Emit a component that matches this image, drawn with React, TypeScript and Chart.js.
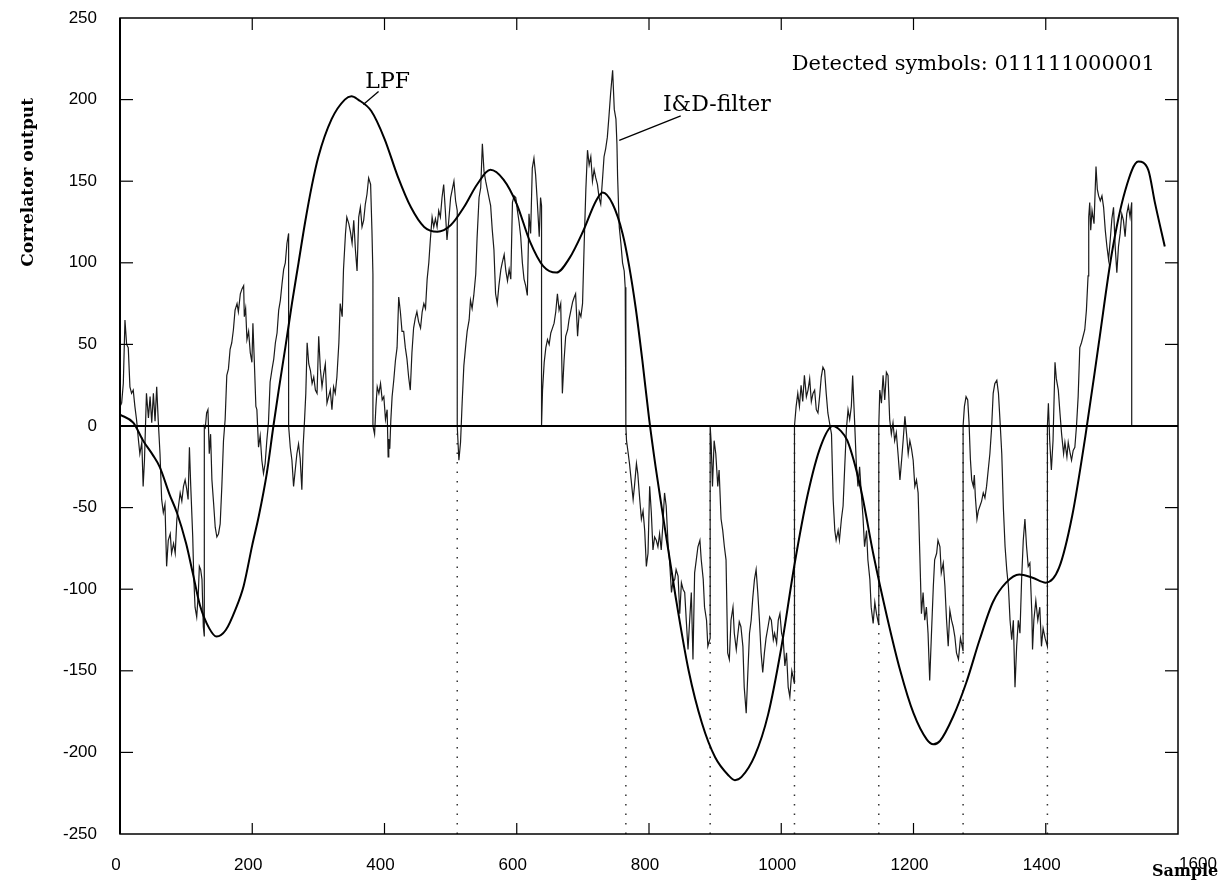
import React, { useEffect, useRef } from 'react';
import { Chart, registerables } from 'chart.js';

Chart.register(...registerables);

// ---- I&D-filter output, one array per symbol interval: [sample, value] ----
const idfSymbol1: number[][] = [[0,12],[2.5,14],[5,26],[7.5,65],[10,50],[12.5,48],[15,24],[17.5,20],[20,22],[22.5,12],[25,4],[28,-9],[30,-17],[33,-10],[35,-37],[37,-21],[40,20],[43,5],[45.5,18],[48,2],[50.5,20],[53,3],[55.5,24],[58,2],[60.5,-17],[63,-45],[65.5,-53],[68,-48],[70.5,-86],[73,-70],[76,-66],[78,-78],[81,-72],[83.5,-78],[86,-57],[88.5,-49],[91,-41],[93.5,-46],[96,-37],[98.5,-33],[101,-39],[103,-45],[105,-13],[107,-37],[110,-68],[111.5,-92],[113.5,-111],[116,-117],[118.5,-102],[120,-86],[122,-88],[124,-94],[126,-123],[127.5,-129],[127.5,0]];
const idfSymbol2: number[][] = [[129,-1],[131,8],[133,10],[135,-17],[137,-5],[139,-33],[141.5,-47],[144,-62],[146.5,-68],[149,-66],[151.5,-60],[154,-37],[156.5,-9],[159,4],[161.5,31],[164,35],[166.5,47],[169,51],[171.5,59],[174,71],[177,75],[179,70],[182,81],[184.5,84],[187,86],[188,67],[190,72],[192,53],[194.5,58],[197,45],[199.5,39],[201,63],[203,41],[205.5,12],[207,10],[209.5,-13],[212,-6],[214.5,-21],[217,-29],[219.5,-23],[222,-9],[224.5,2],[227,27],[230,35],[232.5,41],[235,51],[237.5,57],[240,71],[242.5,77],[245,87],[247.5,96],[250,100],[252.5,112],[255,118],[255,0]];
const idfSymbol3: number[][] = [[257.5,-13],[260,-21],[262.5,-37],[265,-27],[267.5,-17],[270,-11],[272.5,-20],[275,-39],[277,-12],[279,3],[281,20],[283,51],[285.5,38],[288,34],[290.5,26],[293,30],[295.5,22],[298,20],[300.5,55],[303,35],[305.5,24],[308,32],[310.5,38],[313,14],[315.5,18],[318,22],[320.5,10],[323,24],[325.5,20],[328,30],[331,51],[333,75],[336,67],[338,96],[341,118],[343,128],[346,124],[348.5,119],[351,112],[353.5,126],[356,108],[358.5,95],[361,128],[363.5,134],[366,122],[368.5,126],[371,136],[373.5,142],[376,152],[379,148],[381,120],[382.5,93],[382.5,0]];
const idfSymbol4: number[][] = [[385,-5],[387,12],[389,24],[391.5,20],[394,26],[396.5,16],[399,18],[401.5,4],[404,10],[405.5,-19],[406.5,-8],[408,-14],[409.5,3],[411.5,18],[414,28],[416.5,40],[419,48],[421.5,79],[424,70],[426.5,58],[429,58],[431.5,48],[434,41],[436.5,30],[439,22],[441.5,45],[444,60],[446.5,66],[449,70],[451.5,64],[454.5,60],[457,70],[459.5,75],[462,72],[464.5,90],[467,100],[469.5,115],[472,128],[474.5,122],[477,127],[479.5,122],[482,132],[484.5,128],[487,140],[489.5,148],[492,132],[494.5,114],[497,125],[500,140],[502.5,145],[505,150],[507.5,138],[510,132],[510,0]];
const idfSymbol5: number[][] = [[512.5,-21],[515,-10],[517.5,15],[520,37],[523,50],[525,58],[528,65],[530,77],[532.5,72],[535,80],[538,93],[540,115],[543,140],[545.5,146],[548,173],[550.5,156],[553,150],[555.5,145],[558,140],[560.5,135],[563,120],[565.5,108],[568,81],[570.5,75],[573,86],[576,96],[578,100],[581,105],[583.5,95],[586,89],[588.5,96],[591,90],[593.5,137],[596,141],[598.5,140],[601,132],[603.5,125],[606,116],[608.5,100],[611,90],[613.5,86],[616,80],[618.5,130],[621,118],[623.5,158],[626,164],[628.5,154],[631,138],[634,116],[636,140],[637.5,135],[637.5,0]];
const idfSymbol6: number[][] = [[639,22],[641.5,39],[644,48],[646.5,53],[649,50],[651.5,57],[654,60],[656.5,63],[659,70],[661.5,81],[664,71],[666.5,75],[669,20],[671.5,40],[674,55],[677,59],[679,65],[682,71],[684.5,76],[687,79],[689,81],[692,55],[694.5,70],[697,67],[699.5,75],[702,112],[704.5,145],[707,169],[709.5,160],[712,165],[714.5,150],[717,157],[719.5,152],[722,148],[724.5,140],[727,136],[730,153],[732,165],[734.5,170],[737,177],[739.5,190],[742,204],[745,218],[747.5,194],[750,188],[751.5,173],[752.5,153],[755,122],[757.5,112],[760,100],[762.5,95],[764,85],[765,0]];
const idfSymbol7: number[][] = [[766,-9],[768,-15],[770.5,-23],[773,-33],[776,-45],[778,-37],[781,-23],[783,-29],[786,-45],[788.5,-57],[791,-52],[793.5,-64],[796,-86],[798.5,-78],[801,-37],[803.5,-53],[806,-76],[808.5,-68],[811,-70],[813.5,-74],[816,-66],[818.5,-76],[821,-60],[823.5,-41],[826,-49],[829,-74],[831,-82],[834,-102],[836,-96],[839,-94],[841,-88],[844,-92],[846.5,-115],[849,-96],[851.5,-100],[854,-102],[856.5,-120],[859,-137],[861.5,-119],[864,-102],[866.5,-143],[869,-90],[871.5,-82],[874,-74],[877,-70],[879,-82],[882,-94],[884,-111],[887,-119],[889,-135],[892.5,-130],[892.5,0]];
const idfSymbol8: number[][] = [[894,-10],[896,-37],[898.5,-9],[901,-17],[904,-37],[906,-27],[909,-57],[911.5,-64],[914,-74],[916.5,-82],[919,-139],[921.5,-143],[924,-119],[927,-111],[929,-127],[932,-137],[934,-129],[936.5,-120],[939,-123],[942,-135],[944,-160],[947,-176],[949.5,-151],[952,-127],[954.5,-119],[957,-105],[959.5,-94],[962,-88],[964.5,-102],[967,-119],[969.5,-139],[972,-151],[974.5,-139],[977,-130],[980,-123],[982.5,-117],[985,-119],[988,-131],[990,-127],[993,-133],[995.5,-119],[998,-115],[1000.5,-127],[1003,-131],[1005.5,-147],[1008,-139],[1010.5,-160],[1013,-166],[1016,-150],[1020,-158],[1020,0]];
const idfSymbol9: number[][] = [[1022.5,12],[1025,20],[1027.5,12],[1030,25],[1032.5,15],[1035,31],[1038,18],[1040.5,22],[1043,29],[1045.5,15],[1048,20],[1050.5,22],[1053,10],[1055.5,8],[1058,18],[1060.5,30],[1063,36],[1065.5,34],[1068,20],[1070.5,8],[1073,2],[1076,-5],[1078.5,-45],[1081,-64],[1083,-70],[1086,-64],[1088,-70],[1091,-57],[1093.5,-49],[1096,-25],[1098.5,-2],[1101,10],[1103.5,4],[1106,12],[1108,31],[1111,2],[1113.5,-23],[1116,-37],[1118.5,-25],[1121,-41],[1123.5,-55],[1126,-74],[1129,-64],[1131,-82],[1134,-94],[1136,-111],[1139,-121],[1141.5,-108],[1144,-115],[1147.5,-122],[1147.5,0]];
const idfSymbol10: number[][] = [[1149,22],[1151.5,14],[1154,31],[1156.5,16],[1159,33],[1161.5,31],[1164,4],[1166.5,-5],[1169,2],[1171.5,-9],[1174,-4],[1177,-19],[1179.5,-33],[1182,-21],[1184.5,-8],[1187,6],[1189.5,-5],[1192,-17],[1194.5,-9],[1197,-14],[1199.5,-21],[1202,-37],[1204.5,-33],[1207,-41],[1209.5,-78],[1212,-115],[1214.5,-102],[1217,-119],[1219.5,-111],[1222,-127],[1224.5,-156],[1227,-129],[1230,-98],[1232,-82],[1235,-78],[1237,-70],[1240,-74],[1242,-90],[1245,-84],[1247.5,-98],[1250,-119],[1252.5,-135],[1255,-113],[1257.5,-119],[1260,-123],[1262.5,-129],[1265,-139],[1268,-143],[1271,-130],[1275,-138],[1275,0]];
const idfSymbol11: number[][] = [[1277,12],[1279.5,18],[1282,16],[1284,2],[1286,-20],[1288,-33],[1290.5,-37],[1292,-30],[1293.5,-43],[1296,-57],[1298,-52],[1300.5,-49],[1303,-46],[1305.5,-41],[1308,-44],[1310.5,-37],[1313,-27],[1315.5,-17],[1318,-2],[1320.5,20],[1323,26],[1326,28],[1328.5,20],[1331,2],[1333.5,-17],[1336,-51],[1338.5,-74],[1341,-88],[1343.5,-98],[1346,-119],[1348.5,-131],[1351,-119],[1353.5,-160],[1356,-135],[1358.5,-119],[1361,-127],[1363.5,-94],[1366,-70],[1368.5,-57],[1371,-74],[1373.5,-86],[1376,-84],[1379,-115],[1380,-137],[1382,-119],[1385,-107],[1388,-119],[1391,-111],[1393.5,-135],[1396,-124],[1399,-130],[1402.5,-135],[1402.5,0]];
const idfSymbol12: number[][] = [[1404,14],[1406,-9],[1408.5,-27],[1411,-9],[1414,39],[1416,29],[1419,22],[1421.5,8],[1424,-5],[1427,-17],[1429,-10],[1432,-19],[1434,-10],[1437,-17],[1439,-21],[1441.5,-15],[1444,-13],[1446.5,0],[1449,18],[1451.5,48],[1454,51],[1456.5,55],[1459,59],[1461.5,71],[1464,92],[1465,128],[1466.5,137],[1468,120],[1470,132],[1473,124],[1476,159],[1478,145],[1480,141],[1482.5,138],[1485,141],[1487.5,134],[1490,120],[1492.5,110],[1495,102],[1497.5,114],[1500,127],[1502.5,134],[1505,110],[1507.5,94],[1510,110],[1512.5,118],[1515,130],[1517.5,126],[1520,116],[1522.5,130],[1525,135],[1527.5,128],[1530,137],[1530,0]];

// ---- LPF output ----
const lpfSamples = [0,20,35,50,60,75,86,100,110,121,135,146,160,175,187,200,210,222,232,240,250,260,270,280,290,300,320,340,350,360,380,400,420,440,460,480,500,520,540,560,580,600,620,640,660,680,700,720,730,745,760,770,780,790,800,810,820,840,860,880,900,920,930,940,960,980,1000,1020,1040,1060,1078,1090,1100,1120,1140,1160,1180,1200,1220,1230,1240,1260,1280,1300,1320,1340,1360,1380,1400,1420,1440,1460,1480,1500,1520,1540,1555,1565,1580];
const lpfValues = [7,2,-9,-18,-25,-42,-53,-72,-90,-110,-124,-129,-125,-112,-98,-73,-55,-29,0,22,48,75,100,125,147,165,188,200,202,200,193,176,153,134,122,119,123,134,148,157,151,136,113,98,94,103,119,138,143,136,118,98,72,40,5,-25,-52,-104,-150,-182,-203,-214,-217,-215,-202,-177,-136,-85,-42,-12,0,-3,-9,-38,-80,-117,-150,-176,-192,-195,-193,-178,-157,-131,-108,-96,-91,-93,-96,-87,-55,-6,50,106,144,162,157,137,110];

// ---- symbol boundaries marked with dotted verticals ----
const symbolMarks = [510, 765, 892.5, 1020, 1147.5, 1275, 1402.5];

// ---- ticks and text ----
const xTickValues = [0, 200, 400, 600, 800, 1000, 1200, 1400, 1600];
const yTickValues = [-250, -200, -150, -100, -50, 0, 50, 100, 150, 200, 250];
const xTitle = 'Sample';
const yTitle = 'Correlator output';
const detectedText = 'Detected symbols: 011111000001';
const lpfLabel = 'LPF';
const idfLabel = 'I&D-filter';

const SERIF = '"DejaVu Serif", "Liberation Serif", serif';
const SANS = '"Liberation Sans", Arial, sans-serif';

const decorPlugin = {
  id: 'decor',
  afterDraw(chart: any) {
    const { ctx, chartArea: a } = chart;
    const xs = chart.scales.x;
    const ys = chart.scales.y;
    const line = (x1: number, y1: number, x2: number, y2: number) => {
      ctx.beginPath();
      ctx.moveTo(x1, y1);
      ctx.lineTo(x2, y2);
      ctx.stroke();
    };
    ctx.save();
    ctx.strokeStyle = '#000';
    ctx.lineWidth = 1.5;
    ctx.strokeRect(a.left, a.top, a.right - a.left, a.bottom - a.top);
    ctx.lineWidth = 2;
    line(a.left, a.top, a.left, a.bottom);
    // inward tick marks
    ctx.lineWidth = 1.2;
    xTickValues.slice(1, -1).forEach((v) => {
      const p = xs.getPixelForValue(v);
      line(p, a.bottom, p, a.bottom - 11);
      line(p, a.top, p, a.top + 12);
    });
    yTickValues.slice(1, -1).forEach((v) => {
      const p = ys.getPixelForValue(v);
      line(a.left, p, a.left + 13, p);
      line(a.right, p, a.right - 13, p);
    });

    ctx.fillStyle = '#000';
    // last x tick label, set to the right of the frame
    ctx.font = '17px ' + SANS;
    ctx.textAlign = 'center';
    ctx.textBaseline = 'alphabetic';
    ctx.fillText(String(xTickValues[xTickValues.length - 1]), a.right + 20, a.bottom + 35);

    // axis titles
    ctx.font = 'bold 16px ' + SERIF;
    ctx.textAlign = 'left';
    ctx.fillText(xTitle, a.right - 26, a.bottom + 42);

    ctx.save();
    ctx.font = 'bold 17px ' + SERIF;
    ctx.translate(33, a.top + 80);
    ctx.rotate(-Math.PI / 2);
    ctx.textAlign = 'right';
    ctx.fillText(yTitle, 0, 0);
    ctx.restore();

    // annotations
    ctx.font = '21px ' + SERIF;
    ctx.textAlign = 'right';
    ctx.fillText(detectedText, xs.getPixelForValue(1565), ys.getPixelForValue(218));
    ctx.font = '22px ' + SERIF;
    ctx.textAlign = 'left';
    ctx.fillText(lpfLabel, xs.getPixelForValue(371), ys.getPixelForValue(207));
    ctx.fillText(idfLabel, xs.getPixelForValue(821), ys.getPixelForValue(193));

    ctx.lineWidth = 1.3;
    line(xs.getPixelForValue(391), ys.getPixelForValue(205), xs.getPixelForValue(368), ys.getPixelForValue(197));
    line(xs.getPixelForValue(848), ys.getPixelForValue(190), xs.getPixelForValue(755), ys.getPixelForValue(175));
    ctx.restore();
  },
};

export default function App() {
  const ref = useRef<HTMLCanvasElement | null>(null);

  useEffect(() => {
    const canvas = ref.current;
    if (!canvas) return;
    const idfData = [
      idfSymbol1, idfSymbol2, idfSymbol3, idfSymbol4, idfSymbol5, idfSymbol6,
      idfSymbol7, idfSymbol8, idfSymbol9, idfSymbol10, idfSymbol11, idfSymbol12,
    ].flat().map(([x, y]) => ({ x, y }));
    const lpfData = lpfSamples.map((x, i) => ({ x, y: lpfValues[i] }));
    const markData: any[] = [];
    symbolMarks.forEach((s) => {
      markData.push({ x: s, y: -250 }, { x: s, y: 0 }, { x: s, y: null });
    });

    const chart = new Chart(canvas, {
      type: 'line',
      data: {
        datasets: [
          { label: 'LPF', data: lpfData, borderColor: '#000', borderWidth: 2, pointRadius: 0, cubicInterpolationMode: 'monotone', fill: false } as any,
          { label: 'zero', data: [{ x: 0, y: 0 }, { x: 1600, y: 0 }], borderColor: '#000', borderWidth: 2, pointRadius: 0, fill: false },
          { label: 'I&D-filter', data: idfData, borderColor: '#1a1a1a', borderWidth: 1.2, pointRadius: 0, tension: 0, fill: false },
          { label: 'marks', data: markData, borderColor: '#333', borderWidth: 1.5, borderDash: [1.5, 8], pointRadius: 0, spanGaps: false, fill: false },
        ],
      },
      options: {
        responsive: false,
        animation: false,
        events: [],
        plugins: { legend: { display: false }, tooltip: { enabled: false } },
        layout: { padding: { top: 18, right: 42, left: 0, bottom: 0 } },
        scales: {
          x: {
            type: 'linear',
            min: 0,
            max: 1600,
            afterFit: (s: any) => { s.height = 56; s.paddingLeft = 0; s.paddingRight = 0; },
            grid: { display: false, drawTicks: false },
            border: { display: false },
            ticks: {
              stepSize: 200,
              padding: 21,
              labelOffset: -4,
              maxRotation: 0,
              autoSkip: false,
              color: '#000',
              font: { family: SANS, size: 17 },
              callback: (v: any) => (v === 1600 ? '' : String(v)),
            },
          },
          y: {
            type: 'linear',
            min: -250,
            max: 250,
            afterFit: (s: any) => { s.width = 120; s.paddingTop = 0; s.paddingBottom = 0; },
            grid: { display: false, drawTicks: false },
            border: { display: false },
            ticks: {
              stepSize: 50,
              padding: 23,
              color: '#000',
              font: { family: SANS, size: 17 },
            },
          },
        },
      },
      plugins: [decorPlugin],
    });
    return () => chart.destroy();
  }, []);

  return (
    <div style={{ position: 'absolute', left: 0, top: 0, width: 1220, height: 890, background: '#fff' }}>
      <canvas ref={ref} width={1220} height={890} style={{ display: 'block' }} />
    </div>
  );
}
